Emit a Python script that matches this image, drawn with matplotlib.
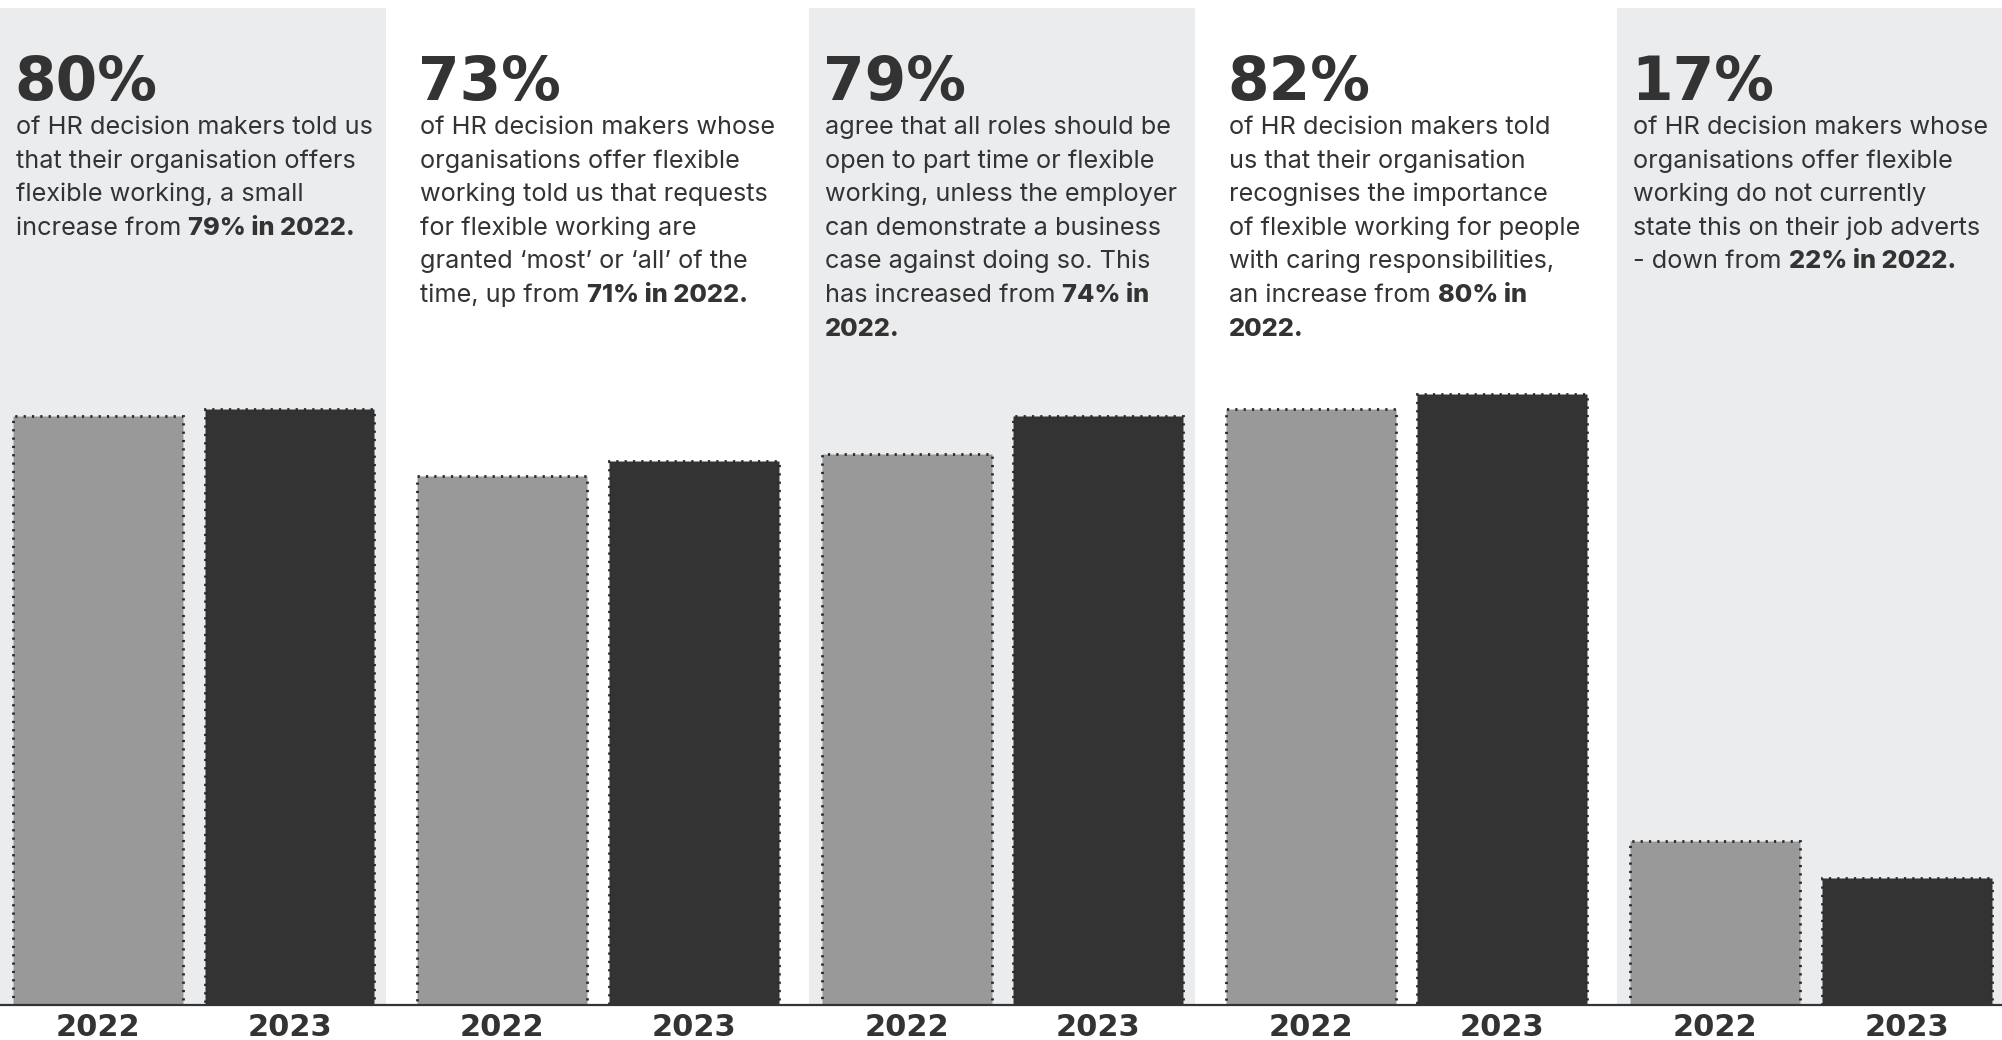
import numpy as np
import matplotlib
matplotlib.use("Agg")
import matplotlib.pyplot as plt

# ---------------- data ----------------
years = ["2022", "2023"]
values_2022 = [79, 71, 74, 80, 22]
values_2023 = [80, 73, 79, 82, 17]
headline = ["80%", "73%", "79%", "82%", "17%"]

# each line: list of (text, bold)
notes = [
    [[("of HR decision makers told us", False)],
     [("that their organisation offers", False)],
     [("flexible working, a small", False)],
     [("increase from ", False), ("79% in 2022.", True)]],
    [[("of HR decision makers whose", False)],
     [("organisations offer flexible", False)],
     [("working told us that requests", False)],
     [("for flexible working are", False)],
     [("granted \u2018most\u2019 or \u2018all\u2019 of the", False)],
     [("time, up from ", False), ("71% in 2022.", True)]],
    [[("agree that all roles should be", False)],
     [("open to part time or flexible", False)],
     [("working, unless the employer", False)],
     [("can demonstrate a business", False)],
     [("case against doing so. This", False)],
     [("has increased from ", False), ("74% in", True)],
     [("2022.", True)]],
    [[("of HR decision makers told", False)],
     [("us that their organisation", False)],
     [("recognises the importance", False)],
     [("of flexible working for people", False)],
     [("with caring responsibilities,", False)],
     [("an increase from ", False), ("80% in", True)],
     [("2022.", True)]],
    [[("of HR decision makers whose", False)],
     [("organisations offer flexible", False)],
     [("working do not currently", False)],
     [("state this on their job adverts", False)],
     [("- down from ", False), ("22% in 2022.", True)]],
]

# ---------------- style ----------------
W, H = 2002, 1040
DARK = "#333333"
MID = "#999999"
SHADE = "#ebecee"
BODY_FONT = "Inter"
HEAVY_FONT = "DejaVu Sans"

PITCH = 404.3          # px per panel
BASE_Y = 1005          # baseline of bars (px from top)
TOP_Y = 8
PX_PER_PCT = 7.45

fig = plt.figure(figsize=(W / 100, H / 100), dpi=100)
fig.patch.set_facecolor("white")

ax = fig.add_axes([0, (H - BASE_Y) / H, 1, (BASE_Y - TOP_Y) / H])
ax.set_xlim(0, W / PITCH)
ax.set_ylim(0, (BASE_Y - TOP_Y) / PX_PER_PCT)
ax.axis("off")

n = len(values_2022)
x = np.arange(n)
# light panels behind every other statistic
for i in range(0, n, 2):
    ax.axvspan(i, i + 0.955, color=SHADE, zorder=0, lw=0)

bw = 0.42
dotted = (0, (0.8, 2.2))
ax.bar(x + 0.2424, values_2022, width=bw, color=MID, edgecolor="#2a2a2a",
       linewidth=2.0, linestyle=dotted, zorder=2)
ax.bar(x + 0.716, values_2023, width=bw, color=DARK, edgecolor="#2a2a2a",
       linewidth=2.0, linestyle=dotted, zorder=2)


def fx(px):
    return px / W


def fy(py):
    return 1 - py / H


# baseline rule
fig.add_artist(plt.Line2D([0, 1], [fy(BASE_Y), fy(BASE_Y)], color=DARK, lw=1.6))

# year labels under bars
for i in range(n):
    for off, yr in zip((0.2424, 0.716), years):
        fig.text(fx((i + off) * PITCH), fy(1036), yr, ha="center", va="baseline",
                 fontsize=22, fontweight="bold", family=HEAVY_FONT, color=DARK)

# headline numbers and notes (bold runs placed after the regular text)
renderer = fig.canvas.get_renderer()
for i in range(n):
    x0 = i * PITCH + 16
    fig.text(fx(x0 - 2), fy(100), headline[i], ha="left", va="baseline",
             fontsize=43, fontweight="bold", family=HEAVY_FONT, color=DARK)
    for k, line in enumerate(notes[i]):
        ypos = 134 + k * 33.6
        cx = x0
        for seg, bold in line:
            t = fig.text(fx(cx), fy(ypos), seg, ha="left", va="baseline",
                         fontsize=18.2, family=BODY_FONT,
                         fontweight="heavy" if bold else "normal", color=DARK)
            bb = t.get_window_extent(renderer)
            cx = bb.x1

fig.savefig("out.png", dpi=100, facecolor="white")
